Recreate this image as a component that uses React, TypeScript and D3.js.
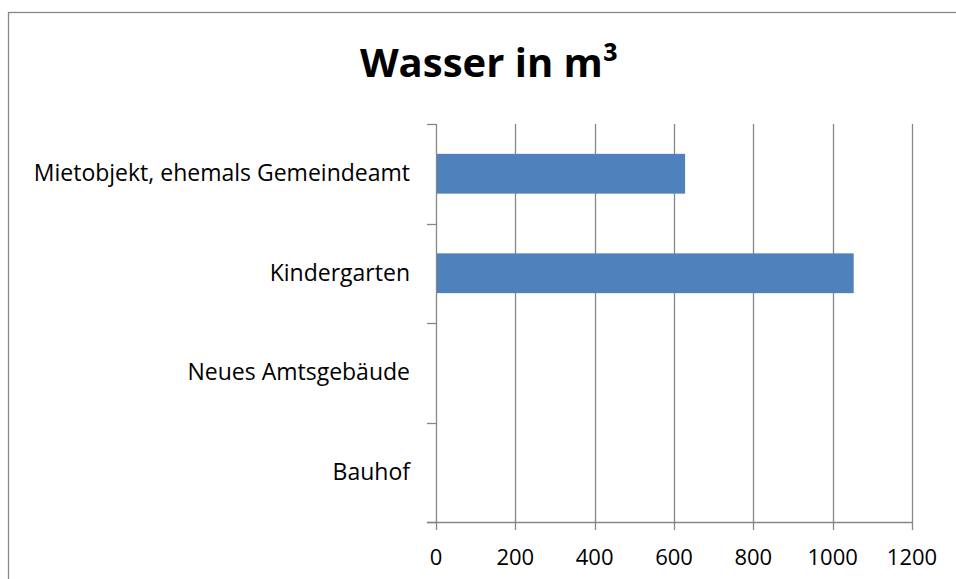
import React, { useEffect, useRef } from 'react';
import * as d3 from 'd3';

// categories from bottom to top, as Excel stacks them
const categories = ['Bauhof', 'Neues Amtsgebäude', 'Kindergarten', 'Mietobjekt, ehemals Gemeindeamt'];
const values = [0, 0, 1053, 628];
const xTicks = [0, 200, 400, 600, 800, 1000, 1200];
const title = 'Wasser in m³';

function App() {
  const ref = useRef<SVGSVGElement>(null);

  useEffect(() => {
    const W = 956, H = 579;
    const margin = { top: 124, right: 44, bottom: 57, left: 436 };
    const width = W - margin.left - margin.right;
    const height = H - margin.top - margin.bottom;
    const font = '"Open Sans", "Noto Sans", sans-serif';
    const grey = '#878787';

    const svg = d3.select(ref.current);
    svg.selectAll('*').remove();

    // outer chart border
    svg.append('rect')
      .attr('x', 8.5).attr('y', 12.5)
      .attr('width', W).attr('height', H)
      .attr('fill', '#fff')
      .attr('stroke', grey).attr('stroke-width', 1.3);

    svg.append('text')
      .attr('x', 489).attr('y', 77)
      .attr('text-anchor', 'middle')
      .attr('font-family', font)
      .attr('font-weight', 700)
      .attr('font-size', 40)
      .attr('fill', '#000')
      .text(title);

    const g = svg.append('g')
      .attr('transform', `translate(${margin.left},${margin.top})`);

    const x = d3.scaleLinear().domain([0, 1200]).range([0, width]);
    const y = d3.scaleBand()
      .domain(categories.slice().reverse())
      .range([0, height])
      .paddingInner(0.6)
      .paddingOuter(0.3);
    const yEdges = d3.scaleLinear().domain([0, categories.length]).range([0, height]);

    // vertical gridlines + x ticks
    g.append('g')
      .selectAll('line')
      .data(xTicks)
      .enter().append('line')
      .attr('x1', d => Math.round(x(d)) + 0.5)
      .attr('x2', d => Math.round(x(d)) + 0.5)
      .attr('y1', 0)
      .attr('y2', height + 8)
      .attr('stroke', grey).attr('stroke-width', 1.3);

    // bottom axis line
    g.append('line')
      .attr('x1', -9).attr('x2', width + 0.5)
      .attr('y1', height + 0.5).attr('y2', height + 0.5)
      .attr('stroke', grey).attr('stroke-width', 1.3);

    // category tick marks
    g.append('g')
      .selectAll('line')
      .data(d3.range(categories.length + 1))
      .enter().append('line')
      .attr('x1', -9).attr('x2', 0)
      .attr('y1', d => Math.round(yEdges(d)) + 0.5)
      .attr('y2', d => Math.round(yEdges(d)) + 0.5)
      .attr('stroke', grey).attr('stroke-width', 1.3);

    g.selectAll('.bar')
      .data(categories.map((c, i) => ({ c, v: values[i] })))
      .enter().append('rect')
      .attr('class', 'bar')
      .attr('x', x(0) + 1)
      .attr('y', d => y(d.c)!)
      .attr('width', d => Math.max(0, x(d.v) - x(0) - 1))
      .attr('height', y.bandwidth())
      .attr('fill', '#4F81BD');

    // x tick labels
    g.append('g')
      .selectAll('text')
      .data(xTicks)
      .enter().append('text')
      .attr('x', d => x(d))
      .attr('y', height + 43)
      .attr('text-anchor', 'middle')
      .attr('font-family', font)
      .attr('font-size', 22)
      .attr('fill', '#000')
      .text(d => d);

    // category labels
    g.append('g')
      .selectAll('text')
      .data(categories)
      .enter().append('text')
      .attr('x', -26)
      .attr('y', d => y(d)! + y.bandwidth() / 2 + 7.5)
      .attr('text-anchor', 'end')
      .attr('font-family', font)
      .attr('font-size', 23)
      .attr('fill', '#000')
      .text(d => d);
  }, []);

  return (
    <svg ref={ref} width={956} height={579}
      style={{ position: 'absolute', left: 0, top: 0, background: '#fff' }} />
  );
}

export default App;
